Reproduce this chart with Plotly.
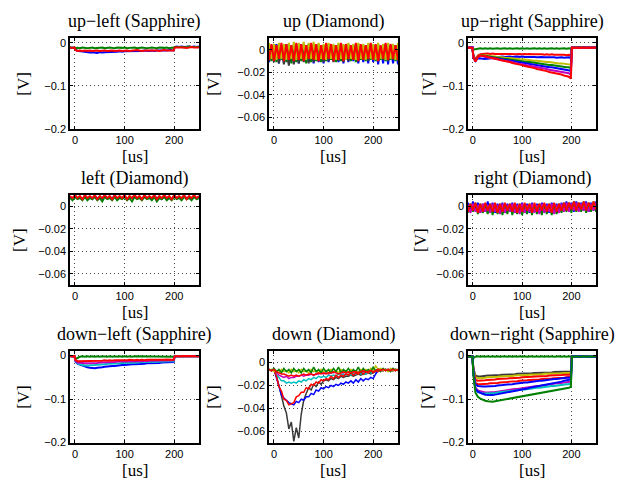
import plotly.graph_objects as go

# Sample times [us]
TS = [-10, -5, -1, 1, 5, 10, 15, 20, 25, 30, 35, 40, 45, 50, 55, 60, 65, 70, 75, 80,
      85, 90, 95, 100, 105, 110, 115, 120, 125, 130, 135, 140, 145, 150, 155, 160,
      165, 170, 175, 180, 185, 190, 195, 199, 201, 205, 210, 215, 220, 225, 230,
      235, 240, 245, 250]
TD = [-10, -5, 0, 5, 10, 15, 20, 25, 30, 35, 40, 45, 50, 55, 60, 65, 70, 75, 80, 85,
      90, 95, 100, 105, 110, 115, 120, 125, 130, 135, 140, 145, 150, 155, 160, 165,
      170, 175, 180, 185, 190, 195, 200, 205, 210, 215, 220, 225, 230, 235, 240,
      245, 250]

# ---- signals in mV ----
# up-left (Sapphire)
ul_blue = [-12, -11, -12,
           -16, -19, -20, -21, -22, -22, -23, -22, -23, -24,
           -22, -23, -22, -22, -21, -22, -21, -21, -20, -21,
           -20, -20, -19, -20, -19, -19, -20, -19, -18, -19,
           -19, -18, -19, -18, -18, -19, -18, -18, -17, -18,
           -18,
           -10, -9, -10, -9, -10, -9, -9, -10, -9, -10, -9]
ul_green = [-11, -12, -11,
            -13, -12, -13, -11, -12, -13, -12, -11, -13, -12,
            -12, -11, -13, -12, -11, -12, -13, -11, -12, -12,
            -11, -13, -12, -12, -11, -13, -12, -11, -12, -13,
            -12, -11, -12, -13, -11, -12, -12, -11, -13, -12,
            -12,
            -10, -10, -9, -10, -11, -10, -9, -10, -10, -11, -10]
ul_red = [-11, -12, -11,
          -17, -19, -18, -19, -18, -19, -18, -19, -18, -18,
          -19, -18, -18, -19, -18, -18, -19, -18, -18, -19,
          -18, -18, -19, -18, -18, -17, -18, -19, -18, -18,
          -18, -17, -18, -18, -19, -18, -17, -18, -18, -17,
          -18,
          -11, -11, -10, -11, -11, -12, -11, -10, -11, -11, -11]

# up (Diamond)
u_blue = [-11, 4, -10, 5, -12, 3, -11, 5, -12, 4,
          -11, 3, -12, 5, -10, 4, -11, 5, -12, 3,
          -11, 4, -12, 5, -11, 3, -10, 4, -11, 5,
          -12, 4, -11, 3, -10, 5, -12, 4, -11, 3,
          -12, 5, -11, 4, -13, 3, -12, 5, -13, 4,
          -12, 3, -13]
u_green = [5, -10, 4, -11, 5, -9, 4, -11, 5, -12,
           4, -11, 5, -10, 4, -12, 5, -11, 4, -10,
           5, -11, 4, -10, 5, -9, 4, -11, 5, -10,
           4, -9, 5, -10, 4, -11, 5, -9, 4, -10,
           5, -9, 4, -10, 5, -9, 4, -10, 5, -9,
           4, -10, 5]
u_black = [-10, 3, -11, 4, -12, 3, -13, 4, -14, 3,
           -13, 4, -12, 3, -11, 4, -12, 3, -11, 4,
           -10, 3, -11, 4, -10, 3, -11, 4, -10, 3,
           -11, 4, -10, 3, -9, 4, -10, 3, -9, 4,
           -10, 3, -9, 4, -10, 3, -9, 4, -10, 3,
           -9, 4, -10]
u_yellow = [6, -8, 5, -9, 6, -8, 5, -9, 6, -8,
            7, -9, 6, -8, 7, -9, 6, -8, 7, -9,
            6, -8, 5, -9, 6, -8, 5, -9, 6, -8,
            5, -9, 6, -8, 5, -9, 6, -8, 5, -9,
            6, -8, 5, -9, 6, -8, 5, -9, 6, -8,
            5, -9, 6]
u_red = [-9, 5, -10, 4, -8, 6, -10, 5, -9, 4,
         -10, 6, -9, 5, -10, 4, -8, 6, -9, 5,
         -10, 4, -9, 6, -8, 5, -10, 4, -9, 6,
         -10, 5, -8, 4, -9, 6, -10, 5, -9, 4,
         -8, 6, -9, 5, -10, 4, -8, 6, -9, 5,
         -8, 4, -9]

# up-right (Sapphire)
ur_green1 = [-12, -11, -12,
             -16, -15, -14, -13, -14, -13, -14, -13, -14, -13,
             -13, -14, -13, -13, -14, -13, -14, -13, -13, -14,
             -13, -14, -13, -14, -13, -13, -14, -13, -14, -13,
             -14, -13, -13, -14, -13, -14, -13, -13, -14, -13,
             -14,
             -12, -11, -12, -11, -12, -11, -12, -12, -11, -12, -11]
ur_red1 = [-11, -12, -11,
           -30, -38, -30, -27, -26, -26, -25, -26, -25, -26,
           -26, -25, -26, -26, -25, -26, -26, -27, -26, -26,
           -27, -26, -27, -26, -27, -27, -26, -27, -27, -28,
           -27, -28, -27, -28, -28, -27, -28, -28, -29, -28,
           -30,
           -12, -11, -11, -12, -11, -12, -11, -11, -12, -11, -11]
ur_blue1 = [-12, -12, -11,
            -32, -42, -36, -37, -38, -38, -37, -36, -35, -34,
            -33, -33, -32, -33, -32, -32, -33, -32, -32, -33,
            -32, -33, -33, -32, -33, -33, -34, -33, -33, -34,
            -34, -33, -34, -34, -35, -34, -34, -35, -35, -34,
            -36,
            -11, -12, -11, -12, -11, -11, -12, -11, -12, -11, -12]
ur_yellow = [-12, -11, -12,
             -31, -40, -32, -29, -29, -29, -30, -31, -31, -32,
             -33, -33, -34, -35, -35, -36, -36, -37, -38, -38,
             -39, -39, -40, -41, -41, -42, -42, -43, -44, -44,
             -45, -45, -46, -46, -47, -48, -48, -49, -49, -50,
             -51,
             -12, -11, -12, -12, -11, -12, -11, -12, -11, -12, -12]
ur_green2 = [-11, -12, -12,
             -33, -41, -33, -30, -30, -31, -32, -33, -33, -34,
             -35, -36, -37, -38, -38, -39, -40, -41, -41, -42,
             -43, -44, -45, -45, -46, -47, -48, -48, -49, -50,
             -51, -52, -52, -53, -54, -55, -55, -56, -57, -57,
             -60,
             -11, -12, -11, -11, -12, -11, -12, -11, -11, -12, -11]
ur_blue2 = [-12, -11, -11,
            -34, -42, -34, -31, -31, -32, -33, -34, -35, -36,
            -37, -38, -39, -40, -41, -42, -43, -44, -45, -46,
            -47, -48, -48, -49, -50, -51, -52, -53, -54, -55,
            -56, -57, -57, -58, -59, -60, -61, -61, -62, -63,
            -65,
            -12, -11, -12, -11, -12, -12, -11, -12, -11, -11, -12]
ur_magenta = [-11, -12, -11,
              -34, -43, -34, -31, -31, -33, -34, -35, -36, -37,
              -38, -40, -41, -42, -43, -44, -45, -47, -48, -49,
              -50, -51, -52, -53, -55, -56, -57, -58, -59, -60,
              -61, -63, -64, -65, -66, -67, -68, -69, -70, -71,
              -74,
              -11, -11, -12, -11, -12, -11, -11, -12, -11, -12, -11]
ur_red2 = [-12, -11, -12,
           -33, -44, -33, -30, -30, -31, -33, -34, -36, -37,
           -38, -40, -41, -43, -44, -45, -47, -48, -50, -51,
           -52, -54, -55, -57, -58, -59, -61, -62, -63, -65,
           -66, -68, -69, -70, -72, -73, -74, -76, -77, -79,
           -83,
           -11, -12, -11, -12, -11, -11, -12, -11, -12, -11, -12]

# left (Diamond)
l_blue = [8, 6, 9, 7, 8, 6, 9, 7, 8, 6,
          9, 7, 8, 6, 9, 7, 8, 7, 9, 6,
          8, 7, 9, 6, 8, 7, 9, 7, 8, 6,
          9, 7, 8, 6, 9, 7, 8, 6, 9, 7,
          8, 6, 9, 7, 8, 6, 9, 7, 8, 6,
          9, 7, 8]
l_green = [7, 5, 8, 6, 7, 5, 8, 5, 7, 6,
           8, 5, 7, 4, 8, 6, 7, 5, 8, 5,
           7, 6, 8, 5, 7, 4, 8, 6, 7, 5,
           8, 6, 7, 5, 8, 4, 7, 6, 8, 5,
           7, 5, 8, 6, 7, 5, 8, 6, 7, 5,
           8, 6, 7]
l_red = [9, 7, 10, 7, 9, 6, 10, 7, 9, 7,
         10, 6, 9, 7, 10, 7, 9, 6, 10, 7,
         9, 7, 10, 6, 9, 7, 10, 7, 9, 6,
         10, 7, 9, 7, 10, 6, 9, 7, 10, 7,
         9, 6, 10, 7, 9, 7, 10, 6, 9, 7,
         10, 7, 9]

# right (Diamond)
r_blue = [3, -5, 4, -4, 3, -6, 2, -5, 4, -4,
          3, -6, 2, -5, 3, -6, 2, -5, 3, -6,
          2, -5, 3, -6, 2, -6, 3, -5, 2, -6,
          3, -5, 2, -6, 3, -5, 2, -6, 3, -5,
          4, -4, 3, -5, 4, -4, 3, -4, 4, -5,
          3, -4, 4]
r_green = [-6, 2, -5, 3, -7, 2, -6, 1, -7, 2,
           -8, 1, -7, 2, -8, 1, -7, 2, -8, 1,
           -7, 2, -8, 1, -7, 2, -8, 1, -7, 2,
           -8, 1, -7, 2, -8, 1, -7, 2, -6, 3,
           -5, 3, -6, 4, -5, 3, -5, 4, -6, 3,
           -5, 4, -5]
r_magenta = [1, -6, 2, -5, 1, -6, 2, -5, 1, -6,
             2, -5, 1, -7, 2, -6, 1, -5, 2, -6,
             1, -7, 2, -6, 1, -5, 2, -6, 1, -7,
             2, -6, 1, -5, 2, -7, 1, -6, 2, -5,
             3, -5, 2, -4, 3, -5, 2, -4, 3, -5,
             2, -4, 3]
r_red = [-5, 2, -4, 3, -6, 2, -5, 3, -4, 2,
         -5, 3, -6, 2, -5, 3, -4, 2, -5, 3,
         -6, 2, -5, 3, -4, 2, -6, 3, -5, 2,
         -4, 3, -5, 2, -6, 3, -5, 2, -4, 3,
         -4, 3, -3, 4, -4, 3, -3, 4, -4, 3,
         -3, 4, -3]

# down-left (Sapphire)
dl_blue = [-2, -1, -2,
           -14, -19, -21, -24, -26, -27, -28, -29, -29, -28,
           -28, -27, -26, -25, -25, -24, -24, -23, -23, -22,
           -22, -21, -21, -20, -20, -20, -19, -19, -19, -18,
           -18, -18, -17, -17, -17, -16, -16, -16, -16, -15,
           -15,
           -2, -1, -2, -2, -1, -2, -1, -2, -2, -1, -2]
dl_green = [-1, -2, -2,
            -8, -5, -3, -2, -3, -2, -3, -2, -3, -2,
            -3, -2, -3, -3, -2, -3, -2, -3, -2, -3,
            -2, -3, -2, -3, -2, -2, -3, -2, -3, -2,
            -3, -2, -3, -2, -2, -3, -2, -3, -2, -3,
            -3,
            -1, -2, -1, -2, -1, -1, -2, -1, -2, -1, -2]
dl_cyan = [-2, -2, -1,
           -13, -18, -20, -22, -23, -23, -23, -22, -22, -21,
           -21, -20, -20, -19, -19, -19, -18, -18, -18, -17,
           -17, -17, -17, -16, -16, -16, -16, -15, -15, -15,
           -15, -15, -14, -14, -14, -14, -14, -13, -13, -13,
           -13,
           -1, -2, -2, -1, -2, -1, -2, -2, -1, -2, -1]
dl_magenta = [-1, -2, -1,
              -12, -16, -17, -17, -18, -18, -18, -17, -17, -17,
              -16, -16, -16, -15, -15, -15, -15, -14, -14, -14,
              -14, -14, -13, -14, -13, -13, -13, -13, -12, -13,
              -12, -12, -12, -12, -12, -11, -12, -11, -11, -11,
              -11,
              -2, -1, -2, -1, -2, -2, -1, -2, -1, -2, -2]
dl_red = [-1, -2, -1,
          -10, -13, -13, -13, -13, -12, -13, -12, -12, -12,
          -12, -12, -11, -12, -11, -12, -11, -11, -12, -11,
          -11, -11, -10, -11, -11, -10, -11, -10, -11, -10,
          -10, -11, -10, -10, -11, -10, -10, -9, -10, -10,
          -10,
          -2, -1, -2, -1, -1, -2, -1, -2, -1, -1, -2]

# down (Diamond)
d_black = [-6, -7, -6, -12, -20, -30, -38, -44, -58, -52,
           -69, -57, -66, -45, -33, -27, -22, -24, -19, -21,
           -17, -19, -16, -15, -16, -14, -15, -13, -14, -12,
           -13, -12, -12, -11, -12, -11, -10, -11, -10, -10,
           -9, -10, -9, -8, -7, -6, -7, -6, -7, -6,
           -7, -6, -7]
d_blue = [-6, -7, -6, -14, -22, -28, -31, -33, -35, -36,
          -37, -34, -35, -32, -33, -30, -30, -27, -28, -24,
          -25, -22, -23, -21, -22, -20, -21, -19, -20, -18,
          -19, -17, -18, -16, -18, -15, -17, -14, -16, -14,
          -15, -13, -14, -10, -7, -6, -7, -6, -7, -6,
          -7, -6, -7]
d_cyan = [-6, -7, -6, -11, -13, -16, -16, -18, -17, -18,
          -17, -18, -16, -17, -15, -16, -14, -15, -13, -14,
          -12, -13, -12, -13, -11, -12, -11, -12, -10, -11,
          -10, -11, -10, -11, -9, -10, -9, -10, -9, -10,
          -8, -9, -8, -7, -7, -6, -7, -6, -7, -6,
          -7, -6, -7]
d_magenta = [-6, -7, -6, -9, -11, -12, -13, -12, -14, -13,
             -13, -12, -12, -11, -12, -11, -11, -10, -11, -10,
             -10, -9, -10, -9, -10, -9, -9, -8, -9, -9,
             -9, -8, -9, -8, -8, -8, -8, -7, -8, -8,
             -8, -7, -8, -7, -6, -7, -6, -7, -6, -7,
             -6, -7, -6]
d_red2 = [-6, -7, -6, -12, -21, -25, -32, -33, -37, -36,
          -35, -30, -29, -26, -26, -22, -23, -19, -20, -17,
          -18, -15, -16, -14, -15, -12, -14, -11, -13, -11,
          -12, -10, -11, -9, -11, -9, -10, -8, -10, -8,
          -9, -7, -9, -7, -8, -6, -7, -6, -7, -6,
          -7, -6, -7]
d_yellow = [-7, -6, -8, -7, -9, -6, -8, -7, -9, -6,
            -8, -7, -9, -6, -8, -7, -9, -6, -8, -7,
            -9, -6, -8, -7, -9, -6, -8, -7, -9, -6,
            -8, -7, -9, -6, -8, -7, -9, -6, -7, -6,
            -8, -5, -7, -3, -6, -5, -7, -6, -8, -5,
            -7, -6, -7]
d_green = [-6, -7, -5, -8, -6, -9, -5, -8, -6, -9,
           -5, -8, -6, -9, -5, -8, -6, -9, -4, -8,
           -6, -9, -5, -8, -6, -9, -5, -8, -4, -9,
           -6, -8, -5, -9, -6, -8, -4, -9, -5, -8,
           -6, -8, -4, -7, -6, -8, -5, -7, -6, -8,
           -5, -7, -6]
d_red1 = [-6, -7, -6, -8, -9, -10, -10, -11, -12, -11,
          -12, -11, -12, -11, -10, -11, -10, -10, -11, -10,
          -9, -10, -9, -10, -9, -9, -8, -9, -10, -9,
          -8, -9, -8, -9, -8, -8, -9, -8, -7, -8,
          -8, -7, -8, -7, -6, -7, -6, -7, -6, -7,
          -6, -7, -6]

# down-right (Sapphire)
dr_green1 = [-2, -3, -2,
             -6, -3, -2, -3, -2, -3, -2, -3, -2, -3,
             -2, -3, -2, -2, -3, -2, -3, -2, -3, -2,
             -3, -2, -3, -2, -2, -3, -2, -3, -2, -3,
             -2, -3, -2, -3, -2, -2, -3, -2, -3, -2,
             -3,
             -2, -3, -2, -2, -3, -2, -3, -2, -2, -3, -2]
dr_black = [-2, -3, -2,
            -30, -46, -48, -48, -47, -47, -46, -46, -46, -45,
            -45, -45, -44, -44, -44, -43, -43, -43, -42, -42,
            -42, -42, -41, -41, -41, -40, -40, -40, -40, -39,
            -39, -39, -39, -38, -38, -38, -38, -37, -37, -37,
            -37,
            -3, -2, -2, -3, -2, -2, -3, -2, -3, -2, -2]
dr_yellow = [-3, -2, -2,
             -32, -50, -52, -52, -51, -51, -50, -50, -50, -49,
             -49, -48, -48, -48, -47, -47, -47, -46, -46, -46,
             -45, -45, -45, -44, -44, -44, -43, -43, -43, -42,
             -42, -42, -42, -41, -41, -41, -41, -40, -40, -40,
             -40,
             -2, -3, -2, -2, -3, -2, -2, -3, -2, -3, -2]
dr_red1 = [-2, -2, -3,
           -35, -56, -58, -58, -57, -57, -56, -56, -55, -55,
           -54, -54, -53, -53, -53, -52, -52, -51, -51, -51,
           -50, -50, -49, -49, -49, -48, -48, -48, -47, -47,
           -47, -46, -46, -46, -45, -45, -45, -44, -44, -44,
           -44,
           -2, -2, -3, -2, -2, -3, -2, -2, -3, -2, -3]
dr_red2 = [-2, -3, -2,
           -37, -63, -66, -66, -66, -65, -65, -64, -64, -63,
           -63, -62, -62, -61, -61, -60, -60, -59, -59, -58,
           -58, -57, -57, -56, -56, -56, -55, -55, -54, -54,
           -53, -53, -53, -52, -52, -51, -51, -51, -50, -50,
           -49,
           -3, -2, -2, -3, -2, -3, -2, -2, -3, -2, -2]
dr_blue1 = [-3, -2, -2,
            -38, -66, -70, -71, -71, -71, -71, -70, -70, -70,
            -69, -69, -68, -67, -67, -66, -66, -65, -64, -64,
            -63, -62, -62, -61, -60, -60, -59, -58, -58, -57,
            -56, -56, -55, -54, -54, -53, -52, -52, -51, -51,
            -50,
            -2, -3, -2, -2, -3, -2, -2, -3, -2, -2, -3]
dr_magenta = [-2, -3, -2,
              -40, -74, -80, -82, -84, -85, -85, -85, -84, -84,
              -83, -82, -81, -81, -80, -79, -78, -77, -77, -76,
              -75, -74, -73, -73, -72, -71, -70, -70, -69, -68,
              -67, -67, -66, -65, -64, -64, -63, -62, -61, -61,
              -60,
              -2, -2, -3, -2, -3, -2, -2, -3, -2, -3, -2]
dr_cyan = [-2, -2, -3,
           -41, -78, -84, -86, -87, -87, -87, -87, -86, -86,
           -85, -84, -84, -83, -82, -82, -81, -80, -80, -79,
           -78, -78, -77, -76, -76, -75, -74, -74, -73, -72,
           -72, -71, -70, -70, -69, -68, -68, -67, -66, -66,
           -64,
           -3, -2, -2, -3, -2, -2, -3, -2, -2, -3, -2]
dr_blue2 = [-3, -2, -2,
            -41, -76, -83, -86, -88, -90, -91, -91, -91, -90,
            -89, -88, -86, -85, -84, -83, -82, -81, -80, -79,
            -78, -77, -76, -74, -73, -72, -71, -70, -69, -68,
            -66, -65, -64, -63, -62, -61, -60, -58, -57, -56,
            -55,
            -2, -2, -3, -2, -3, -2, -2, -3, -2, -2, -3]
dr_green2 = [-2, -3, -2,
             -45, -85, -95, -99, -102, -104, -105, -106, -106, -105,
             -104, -103, -102, -101, -100, -99, -98, -97, -96, -95,
             -94, -93, -92, -91, -90, -89, -88, -86, -85, -84,
             -83, -82, -81, -80, -79, -78, -77, -76, -75, -74,
             -72,
             -2, -3, -2, -3, -2, -2, -3, -2, -3, -2, -2]

# ---- drawing ----
COLORS = {"b": "#0000ff", "g": "#008000", "r": "#ff0000", "c": "#00bfbf",
          "m": "#bf00bf", "y": "#bfbf00", "k": "#3a3a3a"}

W, H = 629, 484
COLS = [(70, 199), (269, 398), (468, 596)]
ROWS = [(37, 129), (196, 288), (355, 448)]

# (title, sensor kind, row, col, ylabel x, line width, traces)
panels = [
    ("up−left (Sapphire)", "S", 0, 0, 24, 2,
     [(ul_blue, "b"), (ul_green, "g"), (ul_red, "r")]),
    ("up (Diamond)", "D", 0, 1, 214, 2,
     [(u_blue, "b"), (u_green, "g"), (u_black, "k"), (u_yellow, "y"), (u_red, "r")]),
    ("up−right (Sapphire)", "S", 0, 2, 429, 2,
     [(ur_green1, "g"), (ur_red1, "r"), (ur_blue1, "b"), (ur_yellow, "y"),
      (ur_green2, "g"), (ur_blue2, "b"), (ur_magenta, "m"), (ur_red2, "r")]),
    ("left (Diamond)", "D", 1, 0, 19, 1.8,
     [(l_blue, "b"), (l_green, "g"), (l_red, "r")]),
    ("right (Diamond)", "D", 1, 2, 420, 1.8,
     [(r_blue, "b"), (r_green, "g"), (r_magenta, "m"), (r_red, "r")]),
    ("down−left (Sapphire)", "S", 2, 0, 24, 2,
     [(dl_blue, "b"), (dl_green, "g"), (dl_cyan, "c"), (dl_magenta, "m"), (dl_red, "r")]),
    ("down (Diamond)", "D", 2, 1, 214, 1.5,
     [(d_black, "k"), (d_blue, "b"), (d_cyan, "c"), (d_magenta, "m"), (d_red2, "r"),
      (d_yellow, "y"), (d_green, "g"), (d_red1, "r")]),
    ("down−right (Sapphire)", "S", 2, 2, 428, 2,
     [(dr_green1, "g"), (dr_black, "k"), (dr_yellow, "y"), (dr_red1, "r"),
      (dr_red2, "r"), (dr_blue1, "b"), (dr_magenta, "m"), (dr_cyan, "c"),
      (dr_blue2, "b"), (dr_green2, "g")]),
]

SERIF = "Liberation Serif, Times New Roman, serif"
SANS = "Liberation Sans, Arial, sans-serif"

fig = go.Figure()
layout = dict(width=W, height=H, margin=dict(l=0, r=0, t=0, b=0),
              paper_bgcolor="white", plot_bgcolor="white", showlegend=False)
annotations = []

for i, (title, kind, row, col, ylab_x, lw, traces) in enumerate(panels, start=1):
    xa = "x" if i == 1 else f"x{i}"
    ya = "y" if i == 1 else f"y{i}"
    t = TS if kind == "S" else TD
    for vals, c in traces:
        fig.add_trace(go.Scatter(x=t, y=[v / 1000 for v in vals], mode="lines",
                                 line=dict(color=COLORS[c], width=lw),
                                 xaxis=xa, yaxis=ya, hoverinfo="skip"))
    x0, x1 = COLS[col]
    y0, y1 = ROWS[row]
    common = dict(showline=True, linecolor="black", linewidth=1.5, mirror="ticks",
                  ticks="inside", ticklen=3, tickcolor="black", tickwidth=1,
                  showgrid=True, gridcolor="#444444", gridwidth=1, griddash="1px,3px",
                  zeroline=False, tickfont=dict(family=SANS, size=11, color="black"))
    layout["xaxis" if i == 1 else f"xaxis{i}"] = dict(
        domain=[x0 / W, x1 / W], anchor=ya, range=[-10, 250],
        tickvals=[0, 100, 200], ticktext=["0", "100", "200"], **common)
    if kind == "S":
        yr, yv, yt = [-0.2, 0.01], [-0.2, -0.1, 0], ["−0.2", "−0.1", "0"]
    else:
        yr, yv, yt = [-0.07, 0.01], [-0.06, -0.04, -0.02, 0], ["−0.06", "−0.04", "−0.02", "0"]
    layout["yaxis" if i == 1 else f"yaxis{i}"] = dict(
        domain=[1 - y1 / H, 1 - y0 / H], anchor=xa, range=yr,
        tickvals=yv, ticktext=yt, **common)

    cx = (x0 + x1) / 2
    annotations.append(dict(text=title, x=cx / W, y=1 - (y0 - 17) / H, xref="paper", yref="paper",
                            xanchor="center", yanchor="middle", showarrow=False,
                            font=dict(family=SERIF, size=18, color="black")))
    annotations.append(dict(text="[us]", x=cx / W, y=1 - (y1 + 28) / H, xref="paper", yref="paper",
                            xanchor="center", yanchor="middle", showarrow=False,
                            font=dict(family=SERIF, size=17, color="black")))
    annotations.append(dict(text="[V]", x=ylab_x / W, y=1 - ((y0 + y1) / 2) / H, xref="paper",
                            yref="paper", xanchor="center", yanchor="middle", textangle=-90,
                            showarrow=False, font=dict(family=SERIF, size=17, color="black")))

layout["annotations"] = annotations
fig.update_layout(**layout)
fig.write_html("out.html")
